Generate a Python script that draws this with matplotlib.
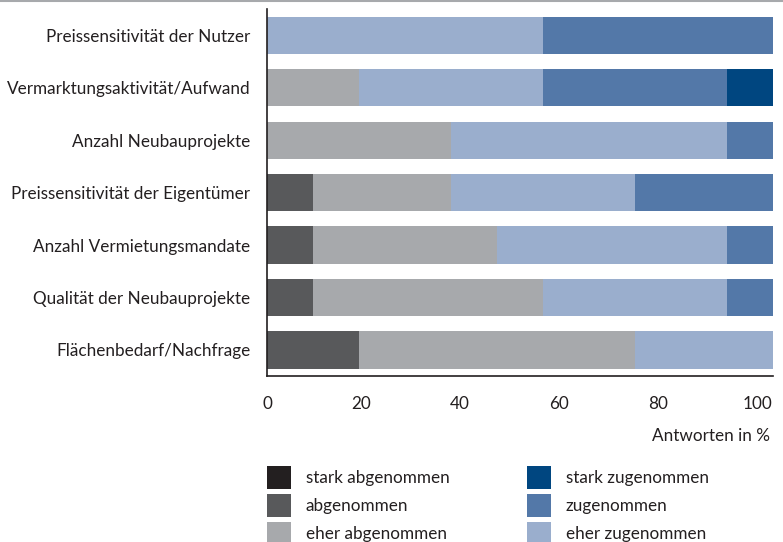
import matplotlib.pyplot as plt
from matplotlib.lines import Line2D

plt.rcParams['font.family'] = ['Lato', 'DejaVu Sans']

categories = ['Preissensitivität der Nutzer', 'Vermarktungsaktivität/Aufwand',
              'Anzahl Neubauprojekte', 'Preissensitivität der Eigentümer',
              'Anzahl Vermietungsmandate', 'Qualität der Neubauprojekte',
              'Flächenbedarf/Nachfrage']
# Anteile in % (11 Antworten je Kategorie)
stark_abgenommen = [0, 0, 0, 0, 0, 0, 0]
abgenommen = [0, 0, 0, 9.09, 9.09, 9.09, 18.18]
eher_abgenommen = [0, 18.18, 36.36, 27.27, 36.36, 45.45, 54.55]
eher_zugenommen = [54.55, 36.36, 54.55, 36.36, 45.45, 36.36, 27.27]
zugenommen = [45.45, 36.36, 9.09, 27.27, 9.09, 9.09, 0]
stark_zugenommen = [0, 9.09, 0, 0, 0, 0, 0]
tick_values = [0, 20, 40, 60, 80, 100]

series = [('stark abgenommen', stark_abgenommen, '#231f20'),
          ('abgenommen', abgenommen, '#58595b'),
          ('eher abgenommen', eher_abgenommen, '#a7a9ac'),
          ('eher zugenommen', eher_zugenommen, '#9aaecd'),
          ('zugenommen', zugenommen, '#5378a8'),
          ('stark zugenommen', stark_zugenommen, '#004680')]

txt = '#231f20'
fs = 12.3

fig = plt.figure(figsize=(7.83, 5.42), dpi=100)
ax = fig.add_axes([0.341, 0.306, 0.646, 0.677])

y = list(range(len(categories)))
left = [0] * len(categories)
handles = {}
for name, vals, col in series:
    b = ax.barh(y, vals, left=left, color=col, height=0.71, label=name)
    handles[name] = b
    left = [l + v for l, v in zip(left, vals)]

ax.set_yticks(y)
ax.set_yticklabels(categories, fontsize=fs, color=txt)
# Skalenbeschriftung leicht gestaucht, wie im Layout der Vorlage
ax.set_xticks([max(v * 0.98 - 1, 0) for v in tick_values])
ax.set_xticklabels([str(v) for v in tick_values])
ax.set_xlim(0, 100)
ax.set_ylim(6.5, -0.5)
ax.tick_params(axis='y', length=0, pad=12)
ax.tick_params(axis='x', length=0, pad=14, labelsize=fs, labelcolor=txt)
for s in ['top', 'right']:
    ax.spines[s].set_visible(False)
for s in ['left', 'bottom']:
    ax.spines[s].set_color(txt)
    ax.spines[s].set_linewidth(1.2)
ax.set_xlabel('Antworten in %', loc='right', fontsize=fs, color=txt, labelpad=12)
ax.xaxis.label.set_x(0.995)

fig.add_artist(Line2D([0, 1], [0.999, 0.999], color='#a7a9ac', lw=1.5))

kw = dict(frameon=False, fontsize=fs, handlelength=1.4, handleheight=1.69,
          labelspacing=0.29, handletextpad=0.88, borderaxespad=0, borderpad=0,
          labelcolor=txt)
left_names = ['stark abgenommen', 'abgenommen', 'eher abgenommen']
right_names = ['stark zugenommen', 'zugenommen', 'eher zugenommen']
fig.legend([handles[n] for n in left_names], left_names, loc='upper left',
           bbox_to_anchor=(0.341, 0.140), **kw)
fig.legend([handles[n] for n in right_names], right_names, loc='upper left',
           bbox_to_anchor=(0.673, 0.140), **kw)

fig.savefig('out.png', dpi=100)
